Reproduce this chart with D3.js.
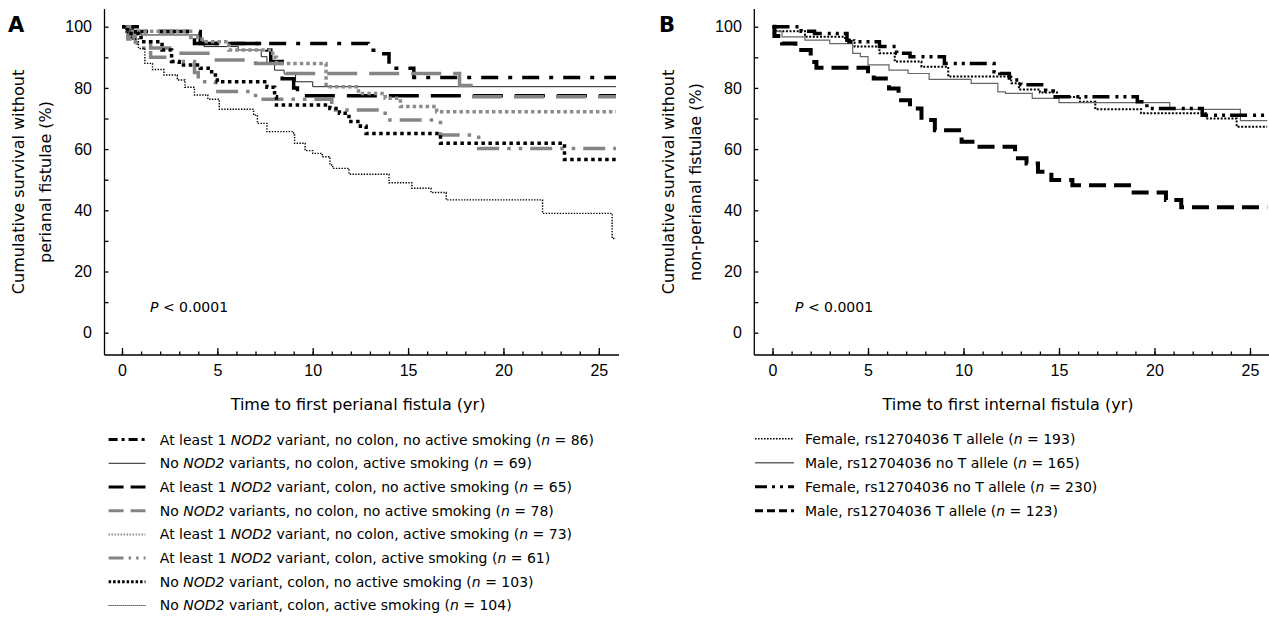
<!DOCTYPE html>
<html>
<head>
<meta charset="utf-8">
<script src="https://cdn.jsdelivr.net/npm/d3@7"></script>
<style>
body { margin: 0; background: #fff; }
svg { display: block; font-family: "DejaVu Sans", Verdana, sans-serif; }
</style>
</head>
<body>
<svg id="chart" width="1269" height="619"></svg>
<script>
// ---- data ----
var yearTicks = [0, 5, 10, 15, 20, 25];
var yearMinor = d3.range(0, 26);
var survTicks = [0, 10, 20, 30, 40, 50, 60, 70, 80, 90, 100];

// panel A: [years, % without perianal fistula]
var nod2NoColonNoSmoke = [[0,100],[1.0,98.4],[4.1,94.5],[12.9,92.3],[13.5,91.2],[14.0,88.5],[14.1,86.4],[15.3,83.4],[25.9,83.4]];
var noNod2NoColonSmoke = [[0,100],[0.6,97.8],[1.0,97.3],[4.1,95.5],[4.3,93.5],[6.1,92.4],[7.3,90.2],[7.6,88],[8.0,85.8],[8.5,84.7],[9.1,82],[10.0,80.4],[25.9,80.4]];
var nod2ColonNoSmoke = [[0,100],[0.5,98.4],[3.8,94.5],[7.6,92.4],[7.8,88.6],[8.4,83],[9.0,80],[9.2,77.4],[25.9,77.4]];
var noNod2NoColonNoSmoke = [[0,100],[0.3,97],[0.7,95],[1.5,93],[2.5,91.3],[4.5,89.1],[7.0,88],[8.6,84.7],[17.7,80.8],[18.3,77.1],[25.9,77.1]];
var nod2NoColonSmoke = [[0,100],[0.4,98.5],[3.6,96.5],[4.2,95.1],[5.6,92.4],[7.9,90],[8.1,88],[10.7,80.4],[12.4,78.2],[13.8,76.6],[14.6,73.9],[16.5,72.2],[25.9,72.2]];
var nod2ColonSmoke = [[0,100],[0.3,96],[0.8,93],[1.5,90],[2.6,88.6],[3.8,85],[4.0,82],[4.9,78.8],[7.0,76.3],[11.0,72.8],[13.8,69.5],[16.7,64.6],[18.7,60.2],[25.9,60.2]];
var noNod2ColonNoSmoke = [[0,100],[0.3,97.8],[1.0,95.1],[2.1,92.4],[2.6,88.6],[3.0,87.5],[4.1,86.4],[4.7,84.2],[5.0,82],[7.6,80.2],[8.0,77.1],[8.1,74.4],[10.9,73.3],[11.4,71.7],[11.9,69],[12.5,67.5],[12.8,65.1],[16.7,61.9],[23.2,56.6],[25.9,56.6]];
var noNod2ColonSmoke = [[0,100],[0.2,98],[0.5,96],[0.86,92.9],[1.2,88],[1.6,86],[2.2,84.2],[2.9,82.6],[3.3,80.2],[3.8,77.7],[4.5,76.3],[5.1,73.0],[6.9,71.1],[7.1,68.4],[7.6,65.7],[9.0,64.6],[9.05,61.9],[9.6,59.5],[10.0,58.6],[10.5,57.5],[10.9,54.8],[11.05,53.7],[11.9,51.8],[14.0,49.0],[15.2,47.2],[16.2,45.8],[17.0,43.4],[22.05,39.0],[25.7,30.8],[25.9,30.8]];

var labelsA = [
  "At least 1 *NOD2* variant, no colon, no active smoking (*n* = 86)",
  "No *NOD2* variants, no colon, active smoking (*n* = 69)",
  "At least 1 *NOD2* variant, colon, no active smoking (*n* = 65)",
  "No *NOD2* variants, no colon, no active smoking (*n* = 78)",
  "At least 1 *NOD2* variant, no colon, active smoking (*n* = 73)",
  "At least 1 *NOD2* variant, colon, active smoking (*n* = 61)",
  "No *NOD2* variant, colon, no active smoking (*n* = 103)",
  "No *NOD2* variant, colon, active smoking (*n* = 104)"
];
var seriesA = [nod2NoColonNoSmoke, noNod2NoColonSmoke, nod2ColonNoSmoke, noNod2NoColonNoSmoke,
               nod2NoColonSmoke, nod2ColonSmoke, noNod2ColonNoSmoke, noNod2ColonSmoke];

// panel B: [years, % without non-perianal fistula]
var femaleT = [[0,100],[0.2,98.5],[1.7,96.7],[3.8,95.6],[4.3,93.5],[5.6,91.3],[6.4,88.6],[7.8,86.9],[9.2,83.7],[12.5,81.5],[12.9,79.5],[14.0,78.5],[14.9,77.0],[16.1,75.5],[16.9,73.0],[19.3,71.7],[22.7,70.0],[24.3,67.3],[25.9,67.3]];
var maleNoT = [[0,100],[0.1,98.5],[0.5,96.7],[1.7,95.6],[3.0,94.5],[4.2,91.3],[4.6,90.2],[5.0,87.5],[6.1,85.8],[7.1,84.7],[8.2,82.8],[10.4,81.5],[11.8,78.7],[12.2,78.2],[13.6,76.6],[15.0,75.2],[20.8,73.0],[24.5,69.3],[25.9,69.3]];
var femaleNoT = [[0,100],[1.5,98.5],[2.2,97.8],[3.9,95.6],[4.0,95.1],[5.6,93.5],[6.5,91.3],[7.2,90.2],[9.0,88.0],[11.6,85.3],[11.9,84.7],[12.4,82.6],[13.0,81.0],[14.3,79.0],[14.7,77.1],[19.1,75.5],[19.6,73.3],[22.5,71.1],[25.9,71.1]];
var maleT = [[0,100],[0.1,97],[0.5,94.5],[1.2,92.4],[2.0,88.5],[2.3,86.6],[5.0,84.2],[5.3,83.1],[6.1,79.8],[6.6,76.0],[7.2,73.3],[7.8,69.5],[8.5,66.2],[9.9,62.4],[10.6,60.8],[12.7,57.0],[13.3,55.3],[13.9,52.6],[14.6,49.9],[15.7,48.2],[18.8,45.8],[20.6,43.4],[21.4,41.0],[25.9,41.0]];

var labelsB = [
  "Female, rs12704036 T allele (*n* = 193)",
  "Male, rs12704036 no T allele (*n* = 165)",
  "Female, rs12704036 no T allele (*n* = 230)",
  "Male, rs12704036 T allele (*n* = 123)"
];
var seriesB = [femaleT, maleNoT, femaleNoT, maleT];

// ---- line styles ----
var stylesA = [
  { c: "#000",    w: 3.5, d: "17,10,4,10",       lw: 3,   ld: "9,4,3,4" },
  { c: "#222",    w: 1,   d: null,               lw: 1,   ld: null },
  { c: "#000",    w: 3.5, d: "30,12",            lw: 3,   ld: "15,7" },
  { c: "#858585", w: 3.5, d: "30,12",            lw: 3,   ld: "15,7" },
  { c: "#8c8c8c", w: 3.5, d: "3.5,3",            lw: 2,   ld: "1.5,1.5" },
  { c: "#858585", w: 3.5, d: "22,8,3.5,8,3.5,8", lw: 3,   ld: "15,5,2.5,5,2.5,5" },
  { c: "#000",    w: 3.5, d: "3.5,3.5",          lw: 3,   ld: "2.5,2" },
  { c: "#000",    w: 1.4, d: "1.4,1.4",          lw: 1,   ld: "1,1" }
];
var stylesB = [
  { c: "#000",    w: 2,   d: "2,1.6",            lw: 1.6, ld: "1.6,1.4" },
  { c: "#666",    w: 1.2, d: null,               lw: 1.4, ld: null },
  { c: "#000",    w: 3.5, d: "17,6,3,5,3,5",     lw: 3,   ld: "12,5,3,5,3,5" },
  { c: "#000",    w: 4,   d: "17,8",             lw: 3,   ld: "8,4" }
];

var svg = d3.select("#chart");
svg.append("rect").attr("width", 1269).attr("height", 619).attr("fill", "#fff");

var y = d3.scaleLinear().domain([0, 100]).range([332.7, 26.7]);

function richText(sel, str) {
  str.split("*").forEach(function(s, i) {
    if (s) sel.append("tspan").text(s).style("font-style", i % 2 ? "italic" : null);
  });
}

function drawPanel(p) {
  var x = d3.scaleLinear().domain([0, 25]).range([p.x0, p.x25]);
  var g = svg.append("g");

  // axis lines
  g.append("line").attr("x1", p.left).attr("x2", p.left).attr("y1", 9).attr("y2", 355)
    .attr("stroke", "#000").attr("stroke-width", 1.3);
  g.append("line").attr("x1", p.left).attr("x2", p.right).attr("y1", 355).attr("y2", 355)
    .attr("stroke", "#000").attr("stroke-width", 1.3);

  // y axis ticks (inward)
  var ya = g.append("g").attr("transform", "translate(" + p.left + ",0)")
    .call(d3.axisLeft(y).tickValues(survTicks).tickSize(-4).tickPadding(12.5)
      .tickFormat(function(d) { return d % 20 === 0 ? d : ""; }));
  ya.select(".domain").remove();
  ya.selectAll("text").attr("font-size", 16).attr("font-family", null);

  // x axis ticks (inward): minor every year, major every 5
  var xm = g.append("g").attr("transform", "translate(0,355)")
    .call(d3.axisBottom(x).tickValues(yearMinor).tickSize(-3.5).tickFormat(""));
  xm.select(".domain").remove();
  var xa = g.append("g").attr("transform", "translate(0,355)")
    .call(d3.axisBottom(x).tickValues(yearTicks).tickSize(-7).tickPadding(10));
  xa.select(".domain").remove();
  xa.selectAll("text").attr("font-size", 16).attr("font-family", null);
  g.selectAll(".tick line").attr("stroke-width", 1.3);

  // titles
  g.append("text").attr("x", p.letterX).attr("y", 32).attr("font-size", 21)
    .attr("font-weight", "bold").text(p.letter);
  p.yTitle.forEach(function(t, i) {
    g.append("text").attr("transform", "translate(" + p.yTitleX[i] + ",182) rotate(-90)")
      .attr("text-anchor", "middle").attr("dy", "0.35em").attr("font-size", 16).text(t);
  });
  var xt = g.append("text").attr("x", p.xTitleX).attr("y", 409.5)
    .attr("text-anchor", "middle").attr("font-size", 16);
  richText(xt, p.xTitle);
  var pt = g.append("text").attr("x", p.pX).attr("y", 312).attr("font-size", 14);
  richText(pt, "*P* < 0.0001");

  // survival curves
  var line = d3.line().curve(d3.curveStepAfter)
    .x(function(d) { return x(d[0]); })
    .y(function(d) { return y(d[1]); });
  g.selectAll("path.km").data(p.series).enter().append("path")
    .attr("class", "km")
    .attr("d", line)
    .attr("fill", "none")
    .attr("stroke", function(d, i) { return p.styles[i].c; })
    .attr("stroke-width", function(d, i) { return p.styles[i].w; })
    .attr("stroke-dasharray", function(d, i) { return p.styles[i].d; });

  // legend
  var lg = g.selectAll("g.leg").data(p.labels).enter().append("g")
    .attr("class", "leg")
    .attr("transform", function(d, i) { return "translate(0," + (p.legY + i * p.legStep) + ")"; });
  lg.append("line").attr("x1", p.swX1).attr("x2", p.swX2)
    .attr("stroke", function(d, i) { return p.styles[i].c; })
    .attr("stroke-width", function(d, i) { return p.styles[i].lw; })
    .attr("stroke-dasharray", function(d, i) { return p.styles[i].ld; });
  lg.append("text").attr("x", p.txtX).attr("dy", "0.35em").attr("font-size", 14)
    .each(function(d) { richText(d3.select(this), d); });
}

drawPanel({
  letter: "A", letterX: 8, left: 104.5, right: 619, x0: 122, x25: 598.8,
  yTitle: ["Cumulative survival without", "perianal fistulae (%)"], yTitleX: [18, 45],
  xTitle: "Time to first perianal fistula (yr)", xTitleX: 358, pX: 150,
  series: seriesA, styles: stylesA, labels: labelsA,
  legY: 439.6, legStep: 23.7, swX1: 108.6, swX2: 145.5, txtX: 159.8
});

drawPanel({
  letter: "B", letterX: 659, left: 754.3, right: 1269, x0: 772.5, x25: 1250,
  yTitle: ["Cumulative survival without", "non-perianal fistulae (%)"], yTitleX: [668, 695],
  xTitle: "Time to first internal fistula (yr)", xTitleX: 1008, pX: 795,
  series: seriesB, styles: stylesB, labels: labelsB,
  legY: 438.7, legStep: 24, swX1: 755, swX2: 794, txtX: 805
});
</script>
</body>
</html>
